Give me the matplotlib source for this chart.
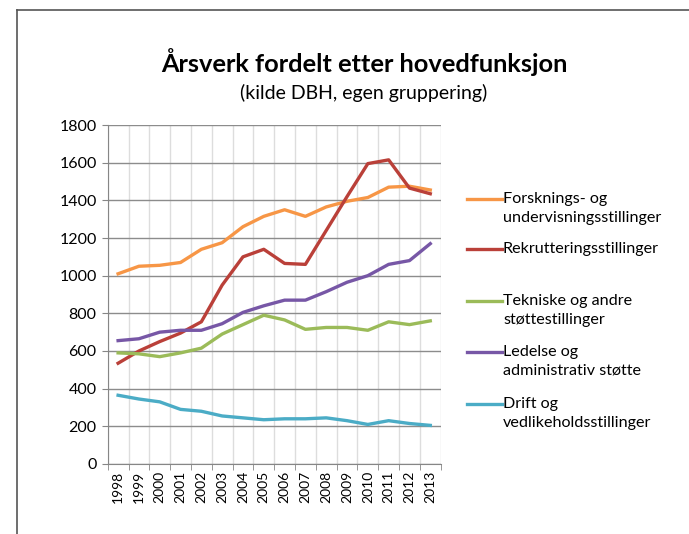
import numpy as np
import matplotlib.pyplot as plt
from matplotlib.lines import Line2D

plt.rcParams["font.family"] = ["Lato", "DejaVu Sans"]

years = [str(y) for y in range(1998, 2014)]

forskning = [1010, 1050, 1055, 1070, 1140, 1175, 1260, 1315, 1350, 1315, 1365, 1395, 1415, 1470, 1475, 1455]
rekruttering = [535, 600, 650, 695, 755, 950, 1100, 1140, 1065, 1060, 1240, 1420, 1595, 1615, 1465, 1435]
tekniske = [590, 585, 570, 590, 615, 690, 740, 790, 765, 715, 725, 725, 710, 755, 740, 760]
ledelse = [655, 665, 700, 710, 710, 745, 805, 840, 870, 870, 915, 965, 1000, 1060, 1080, 1170]
drift = [365, 345, 330, 290, 280, 255, 245, 235, 240, 240, 245, 230, 210, 230, 215, 205]

series = [
    (forskning, "Forsknings- og\nundervisningsstillinger", "#F79646"),
    (rekruttering, "Rekrutteringsstillinger", "#BA4039"),
    (tekniske, "Tekniske og andre\nstøttestillinger", "#9BBB59"),
    (ledelse, "Ledelse og\nadministrativ støtte", "#7757A6"),
    (drift, "Drift og\nvedlikeholdsstillinger", "#4BACC6"),
]

fig = plt.figure(figsize=(6.89, 5.34), dpi=100)
ax = fig.add_axes([0.1563, 0.1311, 0.4833, 0.6348])

x = np.arange(len(years))
for vals, label, color in series:
    ax.plot(x, vals, color=color, linewidth=2.4, solid_joinstyle="round")

ax.set_xlim(-0.5, len(years) - 0.5)
ax.set_ylim(0, 1800)
ax.set_yticks(range(0, 1801, 200))
ax.set_xticks(x)
ax.set_xticklabels(years, rotation=90, fontsize=10)
ax.set_xticks(np.arange(-0.5, len(years)), minor=True)
ax.tick_params(axis="x", which="major", length=0, pad=5)
ax.tick_params(axis="x", which="minor", length=4, color="#868686")
ax.tick_params(axis="y", length=4, color="#868686", labelsize=11.5, pad=4)

ax.grid(axis="y", color="#8C8C8C", linewidth=1.0)
ax.grid(axis="x", which="minor", color="#DDDDDD", linewidth=1.0)
ax.set_axisbelow(True)
for side in ["top", "right"]:
    ax.spines[side].set_visible(False)
for side in ["left", "bottom"]:
    ax.spines[side].set_color("#868686")

# legend drawn by hand so every entry gets the same slot height
leg_y = [199, 249, 301, 352, 404]
for (vals, label, color), ly in zip(series, leg_y):
    yf = 1 - ly / 534
    fig.add_artist(Line2D([467 / 689, 502 / 689], [yf, yf], color=color, linewidth=2.4))
    fig.text(503 / 689, yf + 7 / 534, label, fontsize=11.6, va="top", ha="left",
             linespacing=1.45)

fig.text(364 / 689, 1 - 62 / 534, "Årsverk fordelt etter hovedfunksjon",
         fontsize=18.3, fontweight="bold", ha="center", va="center")
fig.text(364 / 689, 1 - 93 / 534, "(kilde DBH, egen gruppering)",
         fontsize=14, ha="center", va="center")

# frame around the figure
fig.add_artist(Line2D([17 / 689, 1], [1 - 10 / 534, 1 - 10 / 534], color="#555555", linewidth=1.2))
fig.add_artist(Line2D([17 / 689, 17 / 689], [0, 1 - 10 / 534], color="#555555", linewidth=1.2))

fig.savefig("out.png", dpi=100)
